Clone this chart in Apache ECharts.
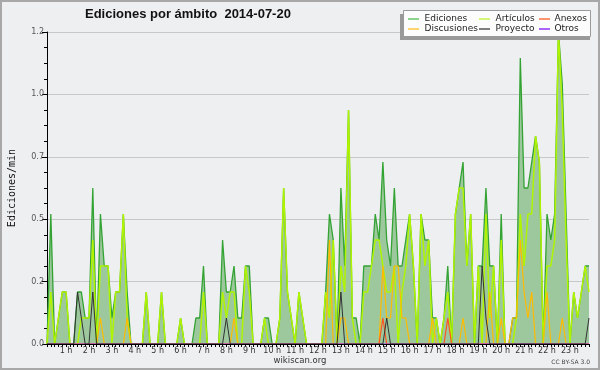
<!DOCTYPE html>
<html><head><meta charset="utf-8">
<script src="https://cdn.jsdelivr.net/npm/echarts@6/dist/echarts.min.js"></script>
<style>html,body{margin:0;padding:0;background:#eeeff1}#c{width:600px;height:370px}</style>
</head><body><div id="c"></div>
<script>
// 10-minute bins, 00:00 .. 23:40 (143 points)
var hourLabels = ["1 h","2 h","3 h","4 h","5 h","6 h","7 h","8 h","9 h","10 h","11 h","12 h","13 h","14 h","15 h","16 h","17 h","18 h","19 h","20 h","21 h","22 h","23 h"];
var yTickStep = 0.24;

var ediciones = [
0,0.5,0,0.1,0.2,0.2,0,0,0.2,0.2,
0.1,0.1,0.6,0,0.5,0.3,0.3,0.1,0.2,0.2,
0.5,0.2,0,0,0,0,0.2,0,0,0,
0.2,0,0,0,0,0.1,0,0,0,0.1,
0.1,0.3,0,0,0,0,0.4,0.2,0.2,0.3,
0.1,0.1,0.3,0.3,0,0,0,0.1,0.1,0,
0,0.1,0.6,0.2,0.1,0,0.2,0.1,0,0,
0,0,0,0.2,0.5,0.4,0,0.6,0.3,0.9,
0.1,0.1,0,0.3,0.3,0.3,0.5,0.4,0.7,0.4,
0.3,0.6,0.3,0.3,0.4,0.5,0.3,0,0.5,0.4,
0.4,0.1,0.1,0,0.1,0.3,0,0.5,0.6,0.7,
0.3,0.5,0,0.3,0.3,0.6,0.3,0.3,0,0.5,
0,0,0.1,0.1,1.1,0.6,0.6,0.7,0.8,0.7,
0,0.5,0.4,0.5,1.2,1.0,0.5,0,0.2,0.1,
0.2,0.3,0.3];

var articulos = [
0,0.2,0,0.1,0.2,0.2,0,0,0,0.1,
0.1,0.1,0.4,0,0.3,0.3,0.3,0,0.2,0.2,
0.5,0.1,0,0,0,0,0.2,0,0,0,
0.2,0,0,0,0,0.1,0,0,0,0,
0,0.2,0,0,0,0,0.2,0.1,0.2,0.2,
0,0,0.3,0.2,0,0,0,0.1,0,0,
0,0.1,0.6,0.2,0.1,0,0.2,0.1,0,0,
0,0,0,0.2,0.1,0.4,0,0.3,0.2,0.9,
0.1,0,0,0.2,0.2,0.3,0.4,0.4,0.3,0.2,
0.2,0.3,0,0.2,0.3,0.5,0.3,0,0.5,0.3,
0.4,0,0.1,0,0.1,0.2,0,0.5,0.6,0.6,
0.3,0.5,0,0.3,0,0.5,0.1,0.3,0,0.4,
0,0,0,0.1,0.5,0.3,0.5,0.5,0.8,0.7,
0,0.3,0.3,0.4,1.2,0.9,0.4,0,0.2,0.1,
0.2,0.3,0.2];

var discusiones = [
0,0,0,0,0,0,0,0,0,0,
0,0,0,0,0.1,0,0,0,0,0,
0,0.1,0,0,0,0,0,0,0,0,
0,0,0,0,0,0,0,0,0,0,
0,0,0,0,0,0,0,0,0,0.1,
0,0,0,0,0,0,0,0,0,0,
0,0,0,0,0,0,0,0,0,0,
0,0,0,0,0.4,0,0,0.1,0.1,0,
0,0,0,0,0,0,0,0,0.3,0.1,
0.1,0.3,0.3,0.1,0.1,0,0,0,0,0,
0,0.1,0,0,0,0,0,0,0,0.1,
0,0,0,0,0,0,0.2,0,0,0.1,
0,0,0.1,0.1,0.4,0.2,0.1,0.2,0,0,
0,0.2,0,0,0,0.1,0,0,0,0,
0,0,0];

var proyecto = [
0,0,0,0,0,0,0,0,0.2,0.1,
0,0,0.2,0,0,0,0,0,0,0,
0,0,0,0,0,0,0,0,0,0,
0,0,0,0,0,0,0,0,0,0,
0,0,0,0,0,0,0,0.1,0,0,
0,0,0,0,0,0,0,0,0,0,
0,0,0,0,0,0,0,0,0,0,
0,0,0,0,0,0,0,0.2,0,0,
0,0,0,0,0,0,0,0,0,0.1,
0,0,0,0,0,0,0,0,0,0,
0,0,0,0,0,0,0,0,0,0,
0,0,0,0,0.3,0.1,0,0,0,0,
0,0,0,0,0,0,0,0,0,0,
0,0,0,0,0,0,0,0,0,0,
0,0,0.1];

var anexos = [
0,0,0,0,0,0,0,0,0,0,
0,0,0,0,0,0,0,0,0,0,
0,0,0,0,0,0,0,0,0,0,
0,0,0,0,0,0,0,0,0,0,
0,0,0,0,0,0,0,0,0,0,
0,0,0,0,0,0,0,0,0,0,
0,0,0,0,0,0,0,0,0,0,
0,0,0,0,0,0,0,0,0,0,
0,0,0,0,0,0,0,0,0.1,0,
0,0,0,0,0,0,0,0,0,0,
0,0,0,0,0,0.1,0,0,0,0,
0,0,0,0,0,0,0,0,0,0,
0,0,0,0,0,0,0,0,0,0,
0,0,0,0,0,0,0,0,0,0,
0,0,0];

var otros = [
0,0,0,0,0,0,0,0,0,0,
0,0,0,0,0,0,0,0,0,0,
0,0,0,0,0,0,0,0,0,0,
0,0,0,0,0,0,0,0,0,0,
0,0,0,0,0,0,0,0,0,0,
0,0,0,0,0,0,0,0,0,0,
0,0,0,0,0,0,0,0,0,0,
0,0,0,0,0,0,0,0,0,0,
0,0,0,0,0,0,0,0,0,0,
0,0,0,0,0,0,0,0,0,0,
0,0,0,0,0,0,0,0,0,0,
0,0,0,0,0,0,0,0,0,0,
0,0,0,0,0,0,0,0,0,0,
0,0,0,0,0,0,0,0,0,0,
0,0,0];

var legendNames = ["Ediciones","Artículos","Anexos","Discusiones","Proyecto","Otros"];
var legendColors = ["#66c466","#c4f54a","#ff7040","#ffc840","#555555","#9033ff"];

var categories = [];
for (var i = 0; i < ediciones.length; i++) {
  var m = i * 10;
  categories.push((m/60|0) + ":" + ("0" + (m % 60)).slice(-2));
}

function lineSeries(name, data, color, width, z) {
  return {name: name, type: 'line', data: data, showSymbol: false, symbol: 'none',
    lineStyle: {color: color, width: width}, itemStyle: {color: color}, z: z, animation: false};
}

var series = [
  {name: 'Ediciones', type: 'line', data: ediciones, showSymbol: false, symbol: 'none',
   lineStyle: {color: '#33a333', width: 1.3}, areaStyle: {color: '#9dc89d', opacity: 1},
   itemStyle: {color: '#33a333'}, z: 2, animation: false},
  lineSeries('Artículos', articulos, '#b0f400', 1.5, 3),
  lineSeries('Discusiones', discusiones, '#ffbb00', 1.2, 4),
  lineSeries('Anexos', anexos, '#ff5522', 1.2, 5),
  lineSeries('Otros', otros, '#9933ff', 1, 5),
  lineSeries('Proyecto', proyecto, '#333333', 1, 6)
];

// legend drawn as graphic elements
var lg = [];
lg.push({type: 'rect', shape: {x: 400, y: 14, width: 190, height: 26}, style: {fill: '#999999'}, z: 20});
lg.push({type: 'rect', shape: {x: 403.5, y: 10.5, width: 187, height: 26}, style: {fill: '#fcfcfc', stroke: '#9a9a9a', lineWidth: 1}, z: 21});
var colX = [[408, 424.5], [479, 495.5], [539, 554.5]];
var rowY = [19, 29];
for (var k = 0; k < legendNames.length; k++) {
  var c = k % 3, r = (k / 3) | 0;
  lg.push({type: 'line', shape: {x1: colX[c][0], y1: rowY[r], x2: colX[c][0] + 11, y2: rowY[r]},
    style: {stroke: legendColors[k], lineWidth: 1.5}, z: 22});
  lg.push({type: 'text', x: colX[c][1], y: rowY[r], style: {text: legendNames[k], fill: '#222',
    font: '9px "DejaVu Sans"', textAlign: 'left', textVerticalAlign: 'middle'}, z: 22});
}

var chart = echarts.init(document.getElementById('c'), null, {renderer: 'canvas'});
chart.setOption({
  backgroundColor: '#eeeff1',
  animation: false,
  grid: {left: 47, right: 11, top: 32, bottom: 26, containLabel: false},
  xAxis: {
    type: 'category', data: categories, boundaryGap: false, z: 10,
    axisLine: {show: true, lineStyle: {color: '#000', width: 1}},
    axisTick: {show: true, interval: 0, length: 3, lineStyle: {color: '#000'}},
    axisLabel: {
      interval: function (idx) { return (idx + 1) % 6 === 0; },
      formatter: function (v, idx) { return hourLabels[(idx + 1) / 6 - 1] || ''; },
      fontSize: 8, fontFamily: 'DejaVu Sans', color: '#333', margin: 3
    },
    splitLine: {show: false}
  },
  yAxis: {
    type: 'value', min: 0, max: yTickStep * 5, interval: yTickStep,
    axisLine: {show: true, lineStyle: {color: '#000', width: 1}},
    axisTick: {show: true, length: 5, lineStyle: {color: '#000'}},
    minorTick: {show: true, splitNumber: 4, length: 3, lineStyle: {color: '#000'}},
    axisLabel: {formatter: function (v) { return v.toFixed(1); }, fontSize: 8,
      fontFamily: 'DejaVu Sans', color: '#555', margin: 3},
    splitLine: {show: true, lineStyle: {color: '#c8c8c8', width: 1}}
  },
  series: series,
  graphic: [
    {type: 'text', x: 85, y: 14, style: {text: 'Ediciones por ámbito  2014-07-20',
      font: 'bold 13px "Liberation Sans"', fill: '#111', textAlign: 'left', textVerticalAlign: 'middle'}, z: 30},
    {type: 'text', x: 12, y: 188, rotation: Math.PI / 2, style: {text: 'Ediciones/min',
      font: '10px "DejaVu Sans Mono"', fill: '#111', textAlign: 'center', textVerticalAlign: 'middle'}, z: 30},
    {type: 'text', x: 300, y: 361, style: {text: 'wikiscan.org', font: '8.5px "DejaVu Sans"',
      fill: '#333', textAlign: 'center', textVerticalAlign: 'middle'}, z: 30},
    {type: 'text', x: 590, y: 362, style: {text: 'CC BY-SA 3.0', font: '6px "DejaVu Sans"',
      fill: '#444', textAlign: 'right', textVerticalAlign: 'middle'}, z: 30},
    {type: 'rect', shape: {x: 1, y: 1, width: 598, height: 368}, style: {fill: 'none', stroke: '#a8a8a8', lineWidth: 2}, z: 40}
  ].concat(lg)
});
</script></body></html>
